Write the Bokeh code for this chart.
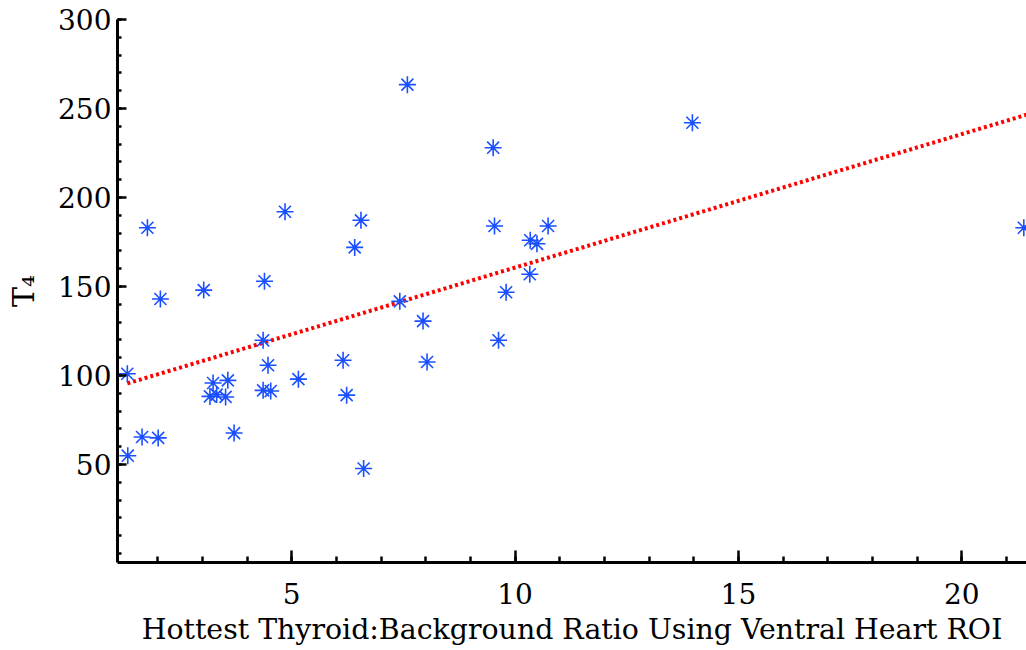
from bokeh.plotting import figure
from bokeh.models import ColumnDataSource, Range1d, FixedTicker
from bokeh.embed import file_html
from bokeh.resources import INLINE

# Data
ratio = [1.32, 1.33, 1.65, 1.77, 2.01, 2.06, 3.03, 3.17, 3.24, 3.32,
         3.52, 3.57, 3.71, 4.36, 4.39, 4.36, 4.53, 4.47, 4.85, 5.15,
         6.15, 6.23, 6.41, 6.55, 6.61, 7.42, 7.59, 7.94, 8.03, 9.51,
         9.54, 9.63, 9.80, 10.33, 10.34, 10.49, 10.74, 13.97, 21.39]
t4 = [101, 55, 65.5, 183, 65, 143, 148, 88.3, 95.8, 89.3,
      88, 97.3, 67.7, 119.8, 153, 91.7, 91.3, 105.8, 192, 98,
      108.6, 89, 172, 187.2, 47.8, 141.7, 263.4, 130.6, 107.6, 228,
      184, 119.8, 146.8, 156.9, 176, 174, 184, 242, 183]

fit_x = [1.32, 21.48]
fit_y = [95.6, 246.7]

x_ticks = [5, 10, 15, 20]
y_ticks = [50, 100, 150, 200, 250, 300]

FONT = "DejaVu Serif"

p = figure(width=1026, height=650, output_backend="svg", toolbar_location=None,
           x_range=Range1d(1.1, 21.45), y_range=Range1d(-5, 300),
           min_border_left=117, min_border_right=0, min_border_top=19,
           min_border_bottom=88)
p.outline_line_color = None
p.grid.visible = False
p.background_fill_color = "white"
p.border_fill_color = "white"

src = ColumnDataSource(dict(x=ratio, y=t4))
p.line(fit_x, fit_y, line_color="#ff0000", line_width=4, line_dash="3 3")
p.scatter("x", "y", source=src, marker="asterisk", size=17,
          line_color="#1a50ff", line_width=1.6)
p.scatter("x", "y", source=src, marker="circle", size=4,
          line_color=None, fill_color="#1a50ff")

for ax in (p.xaxis[0], p.yaxis[0]):
    ax.axis_line_width = 3
    ax.axis_line_color = "black"
    ax.major_tick_line_width = 2.5
    ax.minor_tick_line_width = 2.5
    ax.major_tick_out = 0
    ax.minor_tick_out = 0
    ax.major_label_text_font = FONT
    ax.major_label_text_font_size = "28px"
    ax.major_label_text_color = "black"
    ax.axis_label_text_font = FONT
    ax.axis_label_text_font_style = "normal"
    ax.axis_label_text_color = "black"

p.xaxis.ticker = FixedTicker(ticks=x_ticks, minor_ticks=list(range(2, 22)))
p.yaxis.ticker = FixedTicker(ticks=y_ticks, minor_ticks=list(range(0, 301, 10)))
p.xaxis.major_tick_in = 12
p.xaxis.minor_tick_in = 6
p.yaxis.major_tick_in = 9
p.yaxis.minor_tick_in = 4
p.xaxis.major_label_standoff = 20
p.yaxis.major_label_standoff = 6

p.xaxis.axis_label = "Hottest Thyroid:Background Ratio Using Ventral Heart ROI"
p.xaxis.axis_label_text_font_size = "28.4px"
p.xaxis.axis_label_standoff = 6
p.yaxis.axis_label = "T₄"
p.yaxis.axis_label_text_font_size = "30px"
p.yaxis.axis_label_standoff = 14

open("out.html", "w").write(file_html(p, INLINE))
